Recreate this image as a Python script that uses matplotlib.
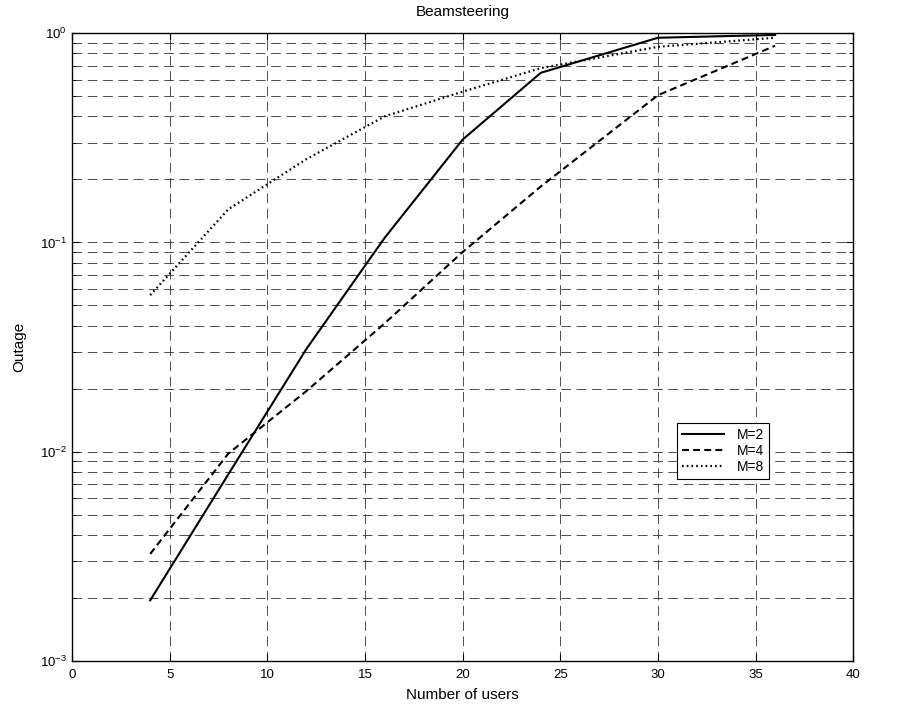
import matplotlib
matplotlib.use("Agg")
import matplotlib.pyplot as plt
from matplotlib.ticker import LogLocator, NullFormatter

plt.rcParams['font.family'] = ['Liberation Sans', 'DejaVu Sans']
plt.rcParams['mathtext.fontset'] = 'custom'
plt.rcParams['mathtext.rm'] = 'Liberation Sans'
plt.rcParams['mathtext.it'] = 'Liberation Sans'
plt.rcParams['lines.scale_dashes'] = False

# number of users
users = [4, 8, 12, 16, 20, 24, 30, 36]
# outage for each number of antennas
outage_m2 = [0.00195, 0.0078, 0.031, 0.105, 0.31, 0.646, 0.95, 0.98]
outage_m4 = [0.00325, 0.0098, 0.0195, 0.041, 0.09, 0.185, 0.505, 0.87]
outage_m8 = [0.056, 0.144, 0.25, 0.40, 0.525, 0.68, 0.86, 0.95]
labels = ["M=2", "M=4", "M=8"]

fig = plt.figure(figsize=(9.01, 7.04), dpi=100)
ax = fig.add_axes([0.080, 0.061, 0.867, 0.892])

ax.plot(users, outage_m2, color='k', lw=1.5, ls='-', label=labels[0])
ax.plot(users, outage_m4, color='k', lw=1.5, ls=(0, (5, 3)), label=labels[1])
ax.plot(users, outage_m8, color='k', lw=1.6, ls=(0, (1.2, 2.2)), label=labels[2])

ax.set_yscale('log')
ax.set_xlim(0, 40)
ax.set_ylim(1e-3, 1)
ax.set_xticks(range(0, 41, 5))
ax.yaxis.set_major_locator(LogLocator(base=10))
ax.yaxis.set_minor_locator(LogLocator(base=10, subs=range(2, 10)))
ax.yaxis.set_minor_formatter(NullFormatter())

grid_style = dict(color='#303030', lw=0.6, ls=(0, (7, 4)))
ax.grid(True, which='major', axis='both', **grid_style)
ax.grid(True, which='minor', axis='y', **grid_style)
ax.set_axisbelow(True)

ax.tick_params(which='both', direction='in', top=True, right=True, labelsize=9.5)
ax.tick_params(which='major', length=5)
ax.tick_params(axis='x', pad=6)
ax.tick_params(which='minor', length=3)
for s in ax.spines.values():
    s.set_linewidth(1.0)

ax.set_title("Beamsteering", fontsize=11, pad=12)
ax.set_xlabel("Number of users", fontsize=11, labelpad=5)
ax.set_ylabel("Outage", fontsize=11, labelpad=10)

leg = ax.legend(loc='upper left', bbox_to_anchor=(0.775, 0.379), fancybox=False,
                edgecolor='k', framealpha=1, fontsize=10, handlelength=3.0,
                borderpad=0.35, labelspacing=0.15, handletextpad=0.9, borderaxespad=0)
leg.get_frame().set_linewidth(0.8)

fig.savefig("out.png", dpi=100)
